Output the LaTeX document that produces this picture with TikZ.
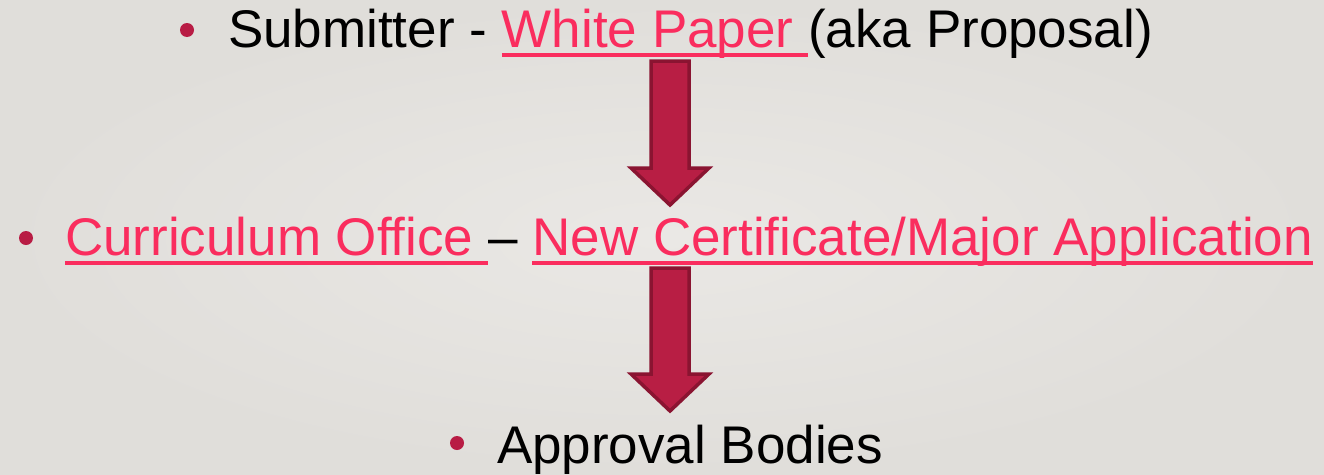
\documentclass[tikz,border=0pt]{standalone}
\usepackage{fontspec}
\setmainfont{Liberation Sans}
\definecolor{bg}{HTML}{E0DEDA}
\definecolor{bglight}{HTML}{EAE8E5}
\definecolor{link}{HTML}{FA2D5E}
\definecolor{bul}{HTML}{B81C44}
\definecolor{arrfill}{HTML}{B81E44}
\definecolor{arredge}{HTML}{8A1431}
\tikzset{
  txt/.style={inner sep=0pt, outer sep=0pt, anchor=base west, font=\fontsize{53}{60}\selectfont},
  lnk/.style={txt, text=link},
  plain/.style={txt, text=black},
  uline/.style={draw=link, line width=3.5pt},
  bulletdot/.style={fill=bul},
  blockarrow/.style={fill=arrfill, draw=arredge, line width=3.5pt, line join=miter}
}
\begin{document}
\begin{tikzpicture}[x=1pt,y=-1pt]
\useasboundingbox (0,0) rectangle (1324,474);
\shade[inner color=bglight, outer color=bg] (0,0) rectangle (1324,474);
% line 1
\fill[bulletdot] (187,30) circle (7);
\node[plain] (sub) at (228,47) {Submitter -\ \null};
\node[lnk] (wp) at (sub.base east) {White Paper\ \null};
\node[plain] (aka) at (wp.base east) {(aka Proposal)};
\draw[uline] ([yshift=-8pt]wp.base west) -- ([yshift=-8pt]wp.base east);
% line 2
\fill[bulletdot] (26,238) circle (7);
\node[lnk] (co) at (65,255) {Curriculum Office\ \null};
\node[plain] (dash) at (co.base east) {–\ \null};
\node[lnk] (app) at (dash.base east) {New Certificate/Major Application};
\draw[uline] ([yshift=-8pt]co.base west) -- ([yshift=-8pt]co.base east);
\draw[uline] ([yshift=-8pt]app.base west) -- ([yshift=-8pt]app.base east);
% line 3
\fill[bulletdot] (457,443) circle (7);
\node[plain] (ab) at (497,463) {Approval Bodies};
% arrows
\draw[blockarrow] (651,61) -- (689,61) -- (689,168) -- (709,168) -- (670,205) -- (631,168) -- (651,168) -- cycle;
\draw[blockarrow] (651,268) -- (689,268) -- (689,374) -- (709,374) -- (670,411) -- (631,374) -- (651,374) -- cycle;
\end{tikzpicture}
\end{document}
